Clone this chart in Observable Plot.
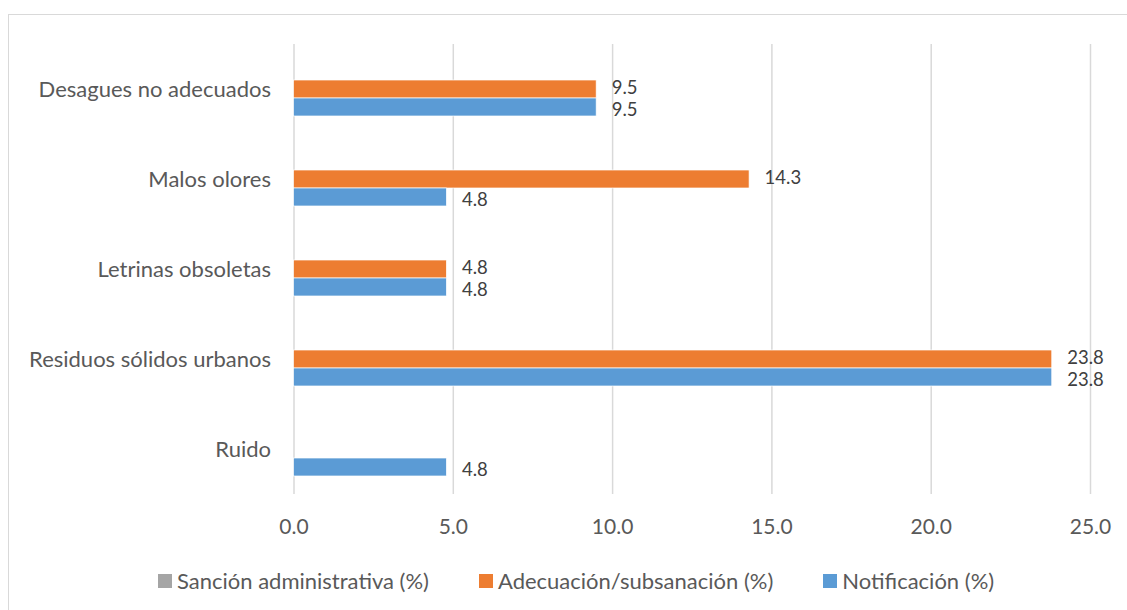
<!DOCTYPE html>
<html><head><meta charset="utf-8">
<script src="https://cdn.jsdelivr.net/npm/d3@7"></script>
<script src="https://cdn.jsdelivr.net/npm/@observablehq/plot@0.6"></script>
<style>
html,body{margin:0;padding:0;background:#fff;overflow:hidden;width:1127px;height:610px;}
#frame{position:absolute;left:8px;top:14px;width:1300px;height:800px;border-top:1.5px solid #d9d9d9;border-left:1.5px solid #d9d9d9;}
#chart{position:absolute;left:0;top:0;}
#legend{position:absolute;left:158px;top:567px;display:flex;align-items:center;font-family:Lato;font-size:22px;color:#595959;white-space:nowrap;}
.item{display:flex;align-items:center;margin-right:50px}
.sw{width:14px;height:14px;margin-right:5px}
</style></head><body>
<div id="frame"></div><div id="chart"></div><div id="legend"></div>
<script>
const categories = ["Desagues no adecuados","Malos olores","Letrinas obsoletas","Residuos sólidos urbanos","Ruido"];
const series = ["Sanción administrativa (%)","Adecuación/subsanación (%)","Notificación (%)"];
const sancion = [0,0,0,0,0];
const adecuacion = [9.5,14.3,4.8,23.8,0];
const notificacion = [9.5,4.8,4.8,23.8,4.8];
const colors = ["#A5A5A5","#ED7D31","#5B9BD5"];
const xTicks = [0,5,10,15,20,25];

const seriesValues = [sancion, adecuacion, notificacion];
const rows = [];
categories.forEach((c,i)=>series.forEach((s,j)=>rows.push({category:c, series:s, value:seriesValues[j][i]})));
const shown = rows.filter(d=>d.value>0);
const shownA = shown.filter(d=>d.series===series[1]);
const shownN = shown.filter(d=>d.series===series[2]);

const plot = Plot.plot({
  width:1127, height:545,
  marginLeft:293.5, marginRight:37, marginTop:43, marginBottom:50,
  style:{fontFamily:"Lato", fontSize:"20px", color:"#595959", background:"transparent", overflow:"visible"},
  x:{domain:[0,25], axis:null},
  y:{domain:series, paddingInner:0, paddingOuter:0.92, axis:null},
  fy:{domain:categories, padding:0, axis:null},
  color:{domain:series, range:colors},
  marks:[
    Plot.gridX(xTicks, {stroke:"#d9d9d9", strokeOpacity:1, strokeWidth:1.5}),
    Plot.barX(shown, {x:"value", y:"series", fy:"category", fill:"series", stroke:"white", strokeWidth:0.7}),
    Plot.text(shownA, {x:"value", y:"series", fy:"category", text:d=>d.value.toFixed(1), dx:15, dy:-1, textAnchor:"start", fill:"#404040", fontSize:18.5}),
    Plot.text(shownN, {x:"value", y:"series", fy:"category", text:d=>d.value.toFixed(1), dx:15, dy:3, textAnchor:"start", fill:"#404040", fontSize:18.5}),
    Plot.axisFy({anchor:"left", tickSize:0, tickPadding:23, label:null, fontSize:22, color:"#595959"}),
    Plot.axisX(xTicks, {anchor:"bottom", tickSize:0, tickPadding:25, tickFormat:d3.format(".1f"), label:null, fontSize:21, color:"#595959"})
  ]
});
document.getElementById("chart").appendChild(plot);

const legend = document.getElementById("legend");
series.forEach((s,j)=>{
  const it = document.createElement("div"); it.className="item";
  const sw = document.createElement("div"); sw.className="sw"; sw.style.background=colors[j];
  const tx = document.createElement("span"); tx.textContent=s;
  it.appendChild(sw); it.appendChild(tx); legend.appendChild(it);
});
</script>
</body></html>
